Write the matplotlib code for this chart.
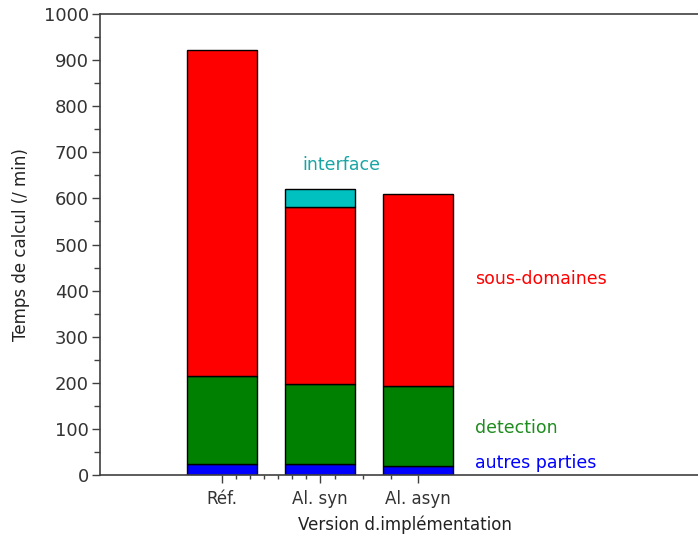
import matplotlib
matplotlib.use("Agg")
import matplotlib.pyplot as plt  # noqa: E402
import numpy as np  # noqa: E402

# data (minutes)
versions = ["Réf.", "Al. syn", "Al. asyn"]
autres = [23, 23, 20]
detection = [191, 174, 174]
sous_domaines = [708, 384, 415]
interface = [0, 40, 0]

segments = [
    ("autres parties", autres, "#0000ff", "#0000ff", 463),
    ("detection", detection, "#008000", "#1e8c1e", 428),
    ("sous-domaines", sous_domaines, "#ff0000", "#ff0000", 279),
]

fig = plt.figure(figsize=(6.98, 5.38), dpi=100)
ax = fig.add_axes([100 / 698, 1 - 475 / 538, 1 - 100 / 698, (475 - 14) / 538])

x = np.arange(1, len(versions) + 1)
width = 0.714
bottom = np.zeros(len(versions))
for name, vals, color, _, _ in segments:
    ax.bar(x, vals, width, bottom=bottom, color=color, edgecolor="black", linewidth=1)
    bottom += np.array(vals)
iface = np.array(interface)
ax.bar(x[iface > 0], iface[iface > 0], width, bottom=bottom[iface > 0],
       color="#00c0c0", edgecolor="black", linewidth=1)

# category labels drawn as text next to the bars
for name, vals, _, tcolor, ypix in segments:
    ax.text(475 / 698, 1 - ypix / 538, name, color=tcolor, fontsize=12.5,
            transform=fig.transFigure, va="center", ha="left")
ax.text(341 / 698, 1 - 165 / 538, "interface", color="#1aa5a5", fontsize=12.5,
        transform=fig.transFigure, va="center", ha="center")

ax.set_xlim(-0.245, 5.857)
ax.set_ylim(0, 1000)
ax.set_xticks(x)
ax.set_xticklabels(versions, fontsize=12)
minor_x = [1 + k / 7 for k in range(1, 7)] + [2 + 15 / 98, 2 + 43 / 98, 2 + 71 / 98]
ax.set_xticks(minor_x, minor=True)
ax.set_yticks(np.arange(0, 1001, 100))
ax.set_yticks(np.arange(50, 1000, 100), minor=True)
ax.tick_params(axis="y", labelsize=13, colors="#404040", labelcolor="#333333",
               length=6, width=1, pad=2)
ax.tick_params(axis="y", which="minor", length=4, width=1, colors="#404040")
ax.tick_params(axis="x", length=6, width=1, colors="#404040", labelcolor="#333333", pad=5)
ax.tick_params(axis="x", which="minor", length=3, width=1, colors="#404040")

for side in ("left", "bottom", "top"):
    ax.spines[side].set_color("#404040")
    ax.spines[side].set_linewidth(1.2)
ax.spines["right"].set_visible(False)

ax.set_ylabel("Temps de calcul (/ min)", fontsize=12, color="#222222", labelpad=10)
ax.set_xlabel("Version d.implémentation", fontsize=12, color="#222222")
ax.xaxis.set_label_coords(305 / 598, -40 / 461)

fig.savefig("out.png", dpi=100)
plt.close(fig)
